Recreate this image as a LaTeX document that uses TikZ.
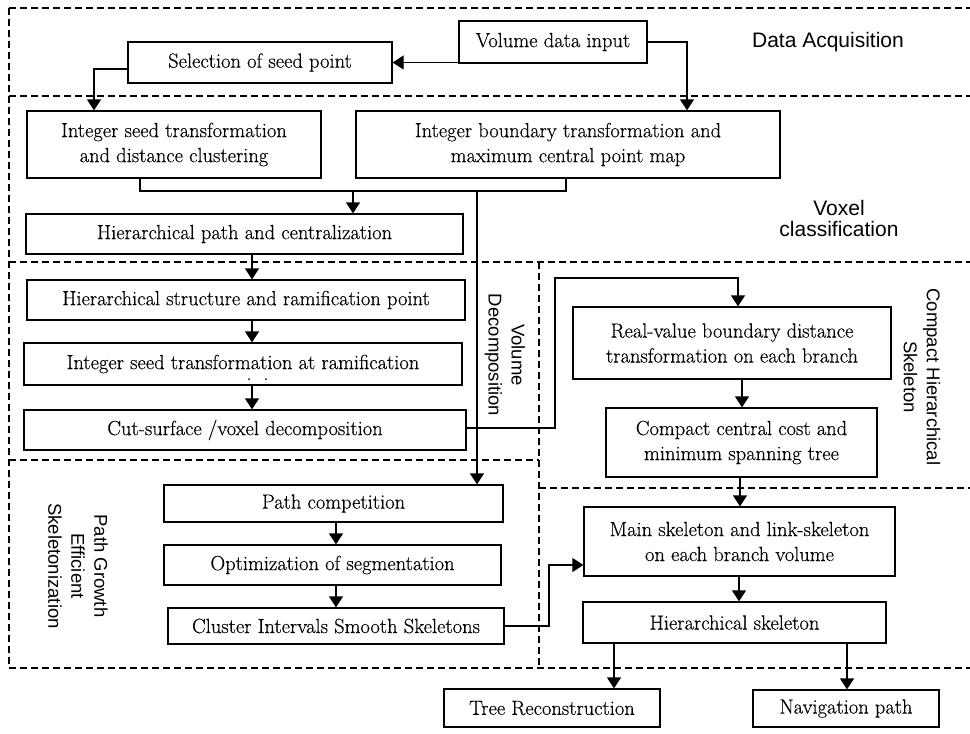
\documentclass[tikz,border=0pt]{standalone}
\usepackage{fontspec}
\setsansfont{Liberation Sans}
\newfontfamily\boxfont{Latin Modern Roman}[FakeBold=0.35]
\usetikzlibrary{arrows.meta}
\begin{document}
\begin{tikzpicture}[x=1pt,y=-1pt,
  box/.style={draw, line width=1.3pt, inner sep=0pt, align=center, font=\boxfont\fontsize{20.5}{25}\selectfont},
  con/.style={line width=1.3pt},
  arr/.style={con, -{Triangle[width=14pt,length=11pt]}},
  dline/.style={line width=1.2pt, dash pattern=on 7pt off 4pt},
  lab/.style={font=\sffamily\fontsize{21}{21}\selectfont, align=center},
  rlab/.style={font=\sffamily\fontsize{18.5}{23}\selectfont, align=center, rotate=-90},
]
\useasboundingbox (0,0) rectangle (970,734);

% dashed region borders
\draw[dline] (9,8) -- (970,8);
\draw[dline] (9,8) -- (9,668);
\draw[dline] (9,96) -- (970,96);
\draw[dline] (9,262) -- (970,262);
\draw[dline] (539,262) -- (539,668);
\draw[dline] (9,460) -- (539,460);
\draw[dline] (539,488) -- (970,488);
\draw[dline] (9,668) -- (970,668);

% boxes
\node[box, minimum width=188pt, minimum height=42pt] (vdi) at (553,42) {Volume data input};
\node[box, minimum width=264pt, minimum height=41pt] (sel) at (260,62.5) {Selection of seed point};
\node[box, minimum width=294pt, minimum height=67pt] (isd) at (174,144.5) {Integer seed transformation\\and distance clustering};
\node[box, minimum width=424pt, minimum height=67pt] (ibt) at (568,144.5) {Integer boundary transformation and\\maximum central point map};
\node[box, minimum width=437pt, minimum height=40pt] (hpc) at (244.5,234) {Hierarchical path and centralization};
\node[box, minimum width=438pt, minimum height=40pt] (hs) at (246,300) {Hierarchical structure and ramification point};
\node[box, minimum width=438pt, minimum height=42pt] (isr) at (243,364) {Integer seed transformation at ramification};
\node[box, minimum width=442pt, minimum height=40pt] (cs) at (245,430) {Cut-surface /voxel decomposition};
\node[box, minimum width=318pt, minimum height=72pt] (rvb) at (732,343) {Real-value boundary distance\\transformation on each branch};
\node[box, minimum width=271pt, minimum height=69pt] (ccc) at (741.5,442.5) {Compact central cost and\\minimum spanning tree};
\node[box, minimum width=339pt, minimum height=37pt] (pc) at (333.5,503.5) {Path competition};
\node[box, minimum width=337pt, minimum height=40pt] (os) at (332.5,565) {Optimization of segmentation};
\node[box, minimum width=336pt, minimum height=36pt] (cis) at (336,626) {Cluster Intervals Smooth Skeletons};
\node[box, minimum width=311pt, minimum height=69pt] (msl) at (739.5,541.5) {Main skeleton and link-skeleton\\on each branch volume};
\node[box, minimum width=303pt, minimum height=41pt] (hsk) at (734.5,622.5) {Hierarchical skeleton};
\node[box, minimum width=216pt, minimum height=38pt] (tr) at (552,708) {Tree Reconstruction};
\node[box, minimum width=186pt, minimum height=37pt] (np) at (846,708.5) {Navigation path};

% stray dots under the ramification text
\fill (249,379) circle (1pt);
\fill (266,379) circle (1pt);

% section labels
\node[lab] (la) at (828,42) {Data Acquisition};
\node[lab] (lb) at (839,218) {Voxel\\classification};
\node[rlab] (lc) at (505,355) {Volume\\Decomposition};
\node[rlab] (ld) at (922,377) {Compact Hierarchical\\Skeleton};
\node[rlab] (le) at (78,566) {Path Growth\\Efficient\\Skeletonization};

% helper coordinates
\coordinate (ax) at (252,0);
\coordinate (bx) at (742,0);
\coordinate (cx) at (740,0);
\coordinate (dx) at (739,0);
\coordinate (ex) at (336,0);
\coordinate (fx) at (614,0);
\coordinate (gx) at (847,0);
\coordinate (j1) at (353,191);
\coordinate (j2) at (477,191);
\coordinate (k1) at (555,278);
\coordinate (k2) at (549,565);

% connectors
\draw[arr] (sel.east -| vdi.west) -- (sel.east);
\draw[arr] (vdi.east) -| ([xshift=119pt]ibt.north);
\draw[arr] ([yshift=-6.5pt]sel.west) -| ([xshift=-80pt]isd.north);
\draw[con] ([xshift=-34pt]isd.south) |- (j1);
\draw[con] (j1) -| ([xshift=-2pt]ibt.south);
\draw[arr] (j1) -- (j1 |- hpc.north);
\draw[arr] (j2) -- (j2 |- pc.north);
\draw[arr] (hpc.south -| ax) -- (hs.north -| ax);
\draw[arr] (hs.south -| ax) -- (isr.north -| ax);
\draw[arr] (isr.south -| ax) -- (cs.north -| ax);
\draw[arr] ([yshift=2pt]cs.east) -| (k1) -| ([xshift=6pt]rvb.north);
\draw[arr] (rvb.south -| bx) -- (ccc.north -| bx);
\draw[arr] (ccc.south -| cx) -- (msl.north -| cx);
\draw[arr] (msl.south -| dx) -- (hsk.north -| dx);
\draw[arr] (hsk.south -| fx) -- (tr.north -| fx);
\draw[arr] (hsk.south -| gx) -- (np.north -| gx);
\draw[arr] (pc.south -| ex) -- (os.north -| ex);
\draw[arr] (os.south -| ex) -- (cis.north -| ex);
\draw[arr] (cis.east) -| (k2) -- (k2 -| msl.west);
\end{tikzpicture}
\end{document}
